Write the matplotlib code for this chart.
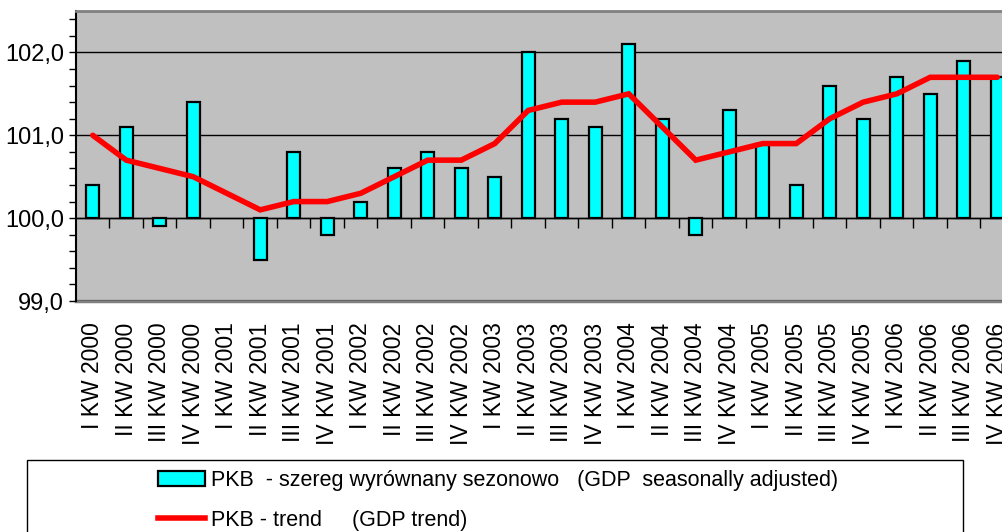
import matplotlib
matplotlib.use('Agg')
import matplotlib.pyplot as plt
import numpy as np
from matplotlib import font_manager
from matplotlib.ticker import MultipleLocator, FixedLocator, FuncFormatter
from matplotlib.patches import Rectangle, Patch
from matplotlib.lines import Line2D

categories = [
    "I KW 2000", "II KW 2000", "III KW 2000", "IV KW 2000",
    "I KW 2001", "II KW 2001", "III KW 2001", "IV KW 2001",
    "I KW 2002", "II KW 2002", "III KW 2002", "IV KW 2002",
    "I KW 2003", "II KW 2003", "III KW 2003", "IV KW 2003",
    "I KW 2004", "II KW 2004", "III KW 2004", "IV KW 2004",
    "I KW 2005", "II KW 2005", "III KW 2005", "IV KW 2005",
    "I KW 2006", "II KW 2006", "III KW 2006", "IV KW 2006",
]
gdp_sa = [100.4, 101.1, 99.9, 101.4, 100.0, 99.5, 100.8, 99.8,
          100.2, 100.6, 100.8, 100.6, 100.5, 102.0, 101.2, 101.1,
          102.1, 101.2, 99.8, 101.3, 100.9, 100.4, 101.6, 101.2,
          101.7, 101.5, 101.9, 101.7]
gdp_trend = [101.0, 100.7, 100.6, 100.5, 100.3, 100.1, 100.2, 100.2,
             100.3, 100.5, 100.7, 100.7, 100.9, 101.3, 101.4, 101.4,
             101.5, 101.1, 100.7, 100.8, 100.9, 100.9, 101.2, 101.4,
             101.5, 101.7, 101.7, 101.7]
label_sa = "PKB  - szereg wyrównany sezonowo   (GDP  seasonally adjusted)"
label_trend = "PKB - trend     (GDP trend)"
base = 100.0

names = {f.name for f in font_manager.fontManager.ttflist}
main_font = 'Liberation Sans' if 'Liberation Sans' in names else 'DejaVu Sans'
narrow_font = 'Liberation Sans Narrow' if 'Liberation Sans Narrow' in names else main_font

W, H = 1003, 532
fig = plt.figure(figsize=(W / 100, H / 100), dpi=100)
ax = fig.add_axes([76 / W, 1 - 301 / H, 938 / W, 290 / H])
ax.set_facecolor('#C0C0C0')

x = np.arange(len(categories))
heights = np.array(gdp_sa) - base
heights = np.where(heights == 0, np.nan, heights)
ax.bar(x, heights, bottom=base, width=0.4, color='#00FFFF',
       edgecolor='black', linewidth=1.6, zorder=3)
ax.plot(x, gdp_trend, color='#FF0000', linewidth=4, zorder=4,
        solid_capstyle='round', solid_joinstyle='miter')

ax.set_xlim(-0.5, len(categories) - 0.5)
ax.set_ylim(99.0, 102.5)

# y axis
ax.yaxis.set_major_locator(FixedLocator([99.0, 100.0, 101.0, 102.0]))
ax.yaxis.set_minor_locator(MultipleLocator(0.2))
ax.yaxis.set_major_formatter(FuncFormatter(lambda v, p: f"{v:.1f}".replace('.', ',')))
ax.tick_params(axis='y', which='both', direction='out', length=5, width=1,
               color='black', pad=3.5)
for lab in ax.get_yticklabels():
    lab.set_fontfamily(main_font)
    lab.set_fontsize(17)
ax.yaxis.grid(True, which='major', color='black', linewidth=1)
ax.set_axisbelow(True)

# category axis crossing at 100
ax.spines['bottom'].set_position(('data', base))
ax.spines['bottom'].set_color('black')
ax.spines['bottom'].set_linewidth(1)
ax.set_xticks(x)
ax.set_xticklabels([])
ax.xaxis.set_minor_locator(FixedLocator(x[:-1] + 0.5))
ax.tick_params(axis='x', which='major', length=0)
ax.tick_params(axis='x', which='minor', direction='out', length=7, width=1,
               color='black')
ax.spines['left'].set_color('black')
ax.spines['left'].set_linewidth(1.5)
ax.spines['top'].set_color('#808080')
ax.spines['top'].set_linewidth(2)
ax.spines['right'].set_visible(False)

# labels at bottom of plot area
sec = ax.secondary_xaxis(0)
sec.set_xticks(x)
sec.set_xticklabels(categories, rotation=90, fontfamily=main_font, fontsize=16.5)
sec.tick_params(axis='x', length=0, pad=15.5)
sec.spines['bottom'].set_color('#808080')
sec.spines['bottom'].set_linewidth(2.5)

# legend frame
fig.patches.append(Rectangle((27 / W, -0.05), (963 - 27) / W, 1 - 460 / H + 0.05,
                             transform=fig.transFigure, fill=False,
                             edgecolor='black', linewidth=1))
handles = [Patch(facecolor='#00FFFF', edgecolor='black', linewidth=1.6),
           Line2D([0], [0], color='#FF0000', linewidth=4)]
leg = fig.legend(handles, [label_sa, label_trend], loc='upper left',
                 bbox_to_anchor=(143 / W, 1 - 455 / H), frameon=False,
                 prop={'family': narrow_font, 'size': 15.5},
                 handlelength=2.2, handleheight=0.75, handletextpad=0.25,
                 labelspacing=0.88, borderpad=0.2)

fig.savefig('out.png', dpi=100)
